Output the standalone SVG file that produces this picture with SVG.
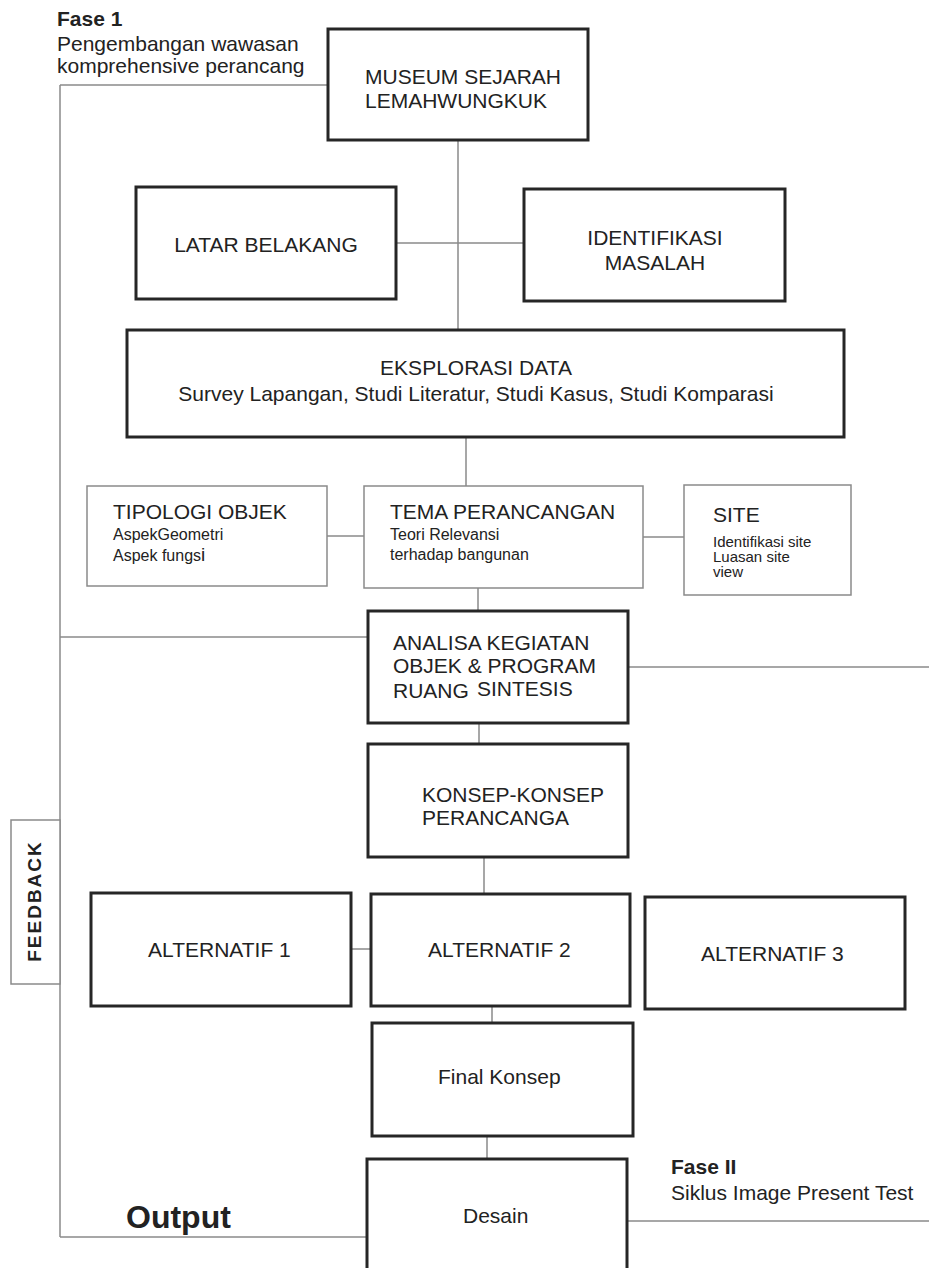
<svg xmlns="http://www.w3.org/2000/svg" width="929" height="1268" viewBox="0 0 929 1268">
<style>
text{font-family:"Liberation Sans",Arial,sans-serif;fill:#222;font-size:21px}
.b{font-weight:bold}
.s{font-size:16px}
.xs{font-size:15px}
.big{font-size:32px}
.fb{font-size:19px;letter-spacing:2px}
.thick{fill:#fff;stroke:#262626;stroke-width:3}
.thin{fill:#fff;stroke:#8a8a8a;stroke-width:1.5}
.con line{stroke:#8a8a8a;stroke-width:1.5}
.m{text-anchor:middle}
</style>
<rect width="929" height="1268" fill="#fff"/>
<g class="con" id="connectors">
<line x1="60" y1="85" x2="60" y2="1237"/>
<line x1="60" y1="85" x2="328" y2="85"/>
<line x1="60" y1="637" x2="368" y2="637"/>
<line x1="60" y1="1237" x2="367" y2="1237"/>
<line x1="458" y1="140" x2="458" y2="330"/>
<line x1="396" y1="243" x2="524" y2="243"/>
<line x1="466" y1="437" x2="466" y2="486"/>
<line x1="327" y1="536" x2="364" y2="536"/>
<line x1="643" y1="537" x2="684" y2="537"/>
<line x1="478" y1="588" x2="478" y2="611"/>
<line x1="628" y1="667" x2="929" y2="667"/>
<line x1="479" y1="723" x2="479" y2="744"/>
<line x1="484" y1="857" x2="484" y2="894"/>
<line x1="351" y1="949" x2="371" y2="949"/>
<line x1="492" y1="1006" x2="492" y2="1023"/>
<line x1="487" y1="1136" x2="487" y2="1159"/>
<line x1="627" y1="1221" x2="929" y2="1221"/>
</g>
<g id="fase1">
<text x="57" y="26" class="b">Fase 1</text>
<text x="57" y="51">Pengembangan wawasan</text>
<text x="57" y="73">komprehensive perancang</text>
</g>
<g id="museum">
<rect class="thick" x="328" y="29" width="260" height="111"/>
<text x="365" y="84">MUSEUM SEJARAH</text>
<text x="365" y="108">LEMAHWUNGKUK</text>
</g>
<g id="latar">
<rect class="thick" x="136" y="187" width="260" height="112"/>
<text x="266" y="252" class="m">LATAR BELAKANG</text>
</g>
<g id="identifikasi">
<rect class="thick" x="524" y="189" width="261" height="112"/>
<text x="655" y="245" class="m">IDENTIFIKASI</text>
<text x="655" y="270" class="m">MASALAH</text>
</g>
<g id="eksplorasi">
<rect class="thick" x="127" y="330" width="717" height="107"/>
<text x="476" y="375" class="m">EKSPLORASI DATA</text>
<text x="476" y="401" class="m">Survey Lapangan, Studi Literatur, Studi Kasus, Studi Komparasi</text>
</g>
<g id="tipologi">
<rect class="thin" x="87" y="486" width="240" height="100"/>
<text x="113" y="519">TIPOLOGI OBJEK</text>
<text x="113" y="540" class="s">AspekGeometri</text>
<text x="113" y="561" class="s">Aspek fungs<tspan style="font-size:19px">i</tspan></text>
</g>
<g id="tema">
<rect class="thin" x="364" y="486" width="279" height="102"/>
<text x="390" y="519">TEMA PERANCANGAN</text>
<text x="390" y="540" class="s">Teori Relevansi</text>
<text x="390" y="560" class="s">terhadap bangunan</text>
</g>
<g id="site">
<rect class="thin" x="684" y="485" width="167" height="110"/>
<text x="713" y="522">SITE</text>
<text x="713" y="547" class="xs">Identifikasi site</text>
<text x="713" y="562" class="xs">Luasan site</text>
<text x="713" y="577" class="xs">view</text>
</g>
<g id="analisa">
<rect class="thick" x="368" y="611" width="260" height="112"/>
<text x="393" y="650">ANALISA KEGIATAN</text>
<text x="393" y="673">OBJEK &amp; PROGRAM</text>
<text x="393" y="698">RUANG</text>
<text x="477" y="696">SINTESIS</text>
</g>
<g id="konsep">
<rect class="thick" x="368" y="744" width="260" height="113"/>
<text x="422" y="802">KONSEP-KONSEP</text>
<text x="422" y="825">PERANCANGA</text>
</g>
<g id="feedback">
<rect class="thin" x="11" y="820" width="49" height="164"/>
<text transform="translate(41,901) rotate(-90)" class="b m fb">FEEDBACK</text>
</g>
<g id="alt1">
<rect class="thick" x="91" y="893" width="260" height="113"/>
<text x="148" y="957">ALTERNATIF 1</text>
</g>
<g id="alt2">
<rect class="thick" x="371" y="894" width="259" height="112"/>
<text x="428" y="957">ALTERNATIF 2</text>
</g>
<g id="alt3">
<rect class="thick" x="645" y="897" width="260" height="112"/>
<text x="701" y="961">ALTERNATIF 3</text>
</g>
<g id="final">
<rect class="thick" x="372" y="1023" width="261" height="113"/>
<text x="438" y="1084">Final Konsep</text>
</g>
<g id="desain">
<rect class="thick" x="367" y="1159" width="260" height="120"/>
<text x="463" y="1223">Desain</text>
</g>
<g id="output">
<text x="126" y="1228" class="b big">Output</text>
</g>
<g id="fase2">
<text x="671" y="1174" class="b">Fase II</text>
<text x="671" y="1200">Siklus Image Present Test</text>
</g>
</svg>
